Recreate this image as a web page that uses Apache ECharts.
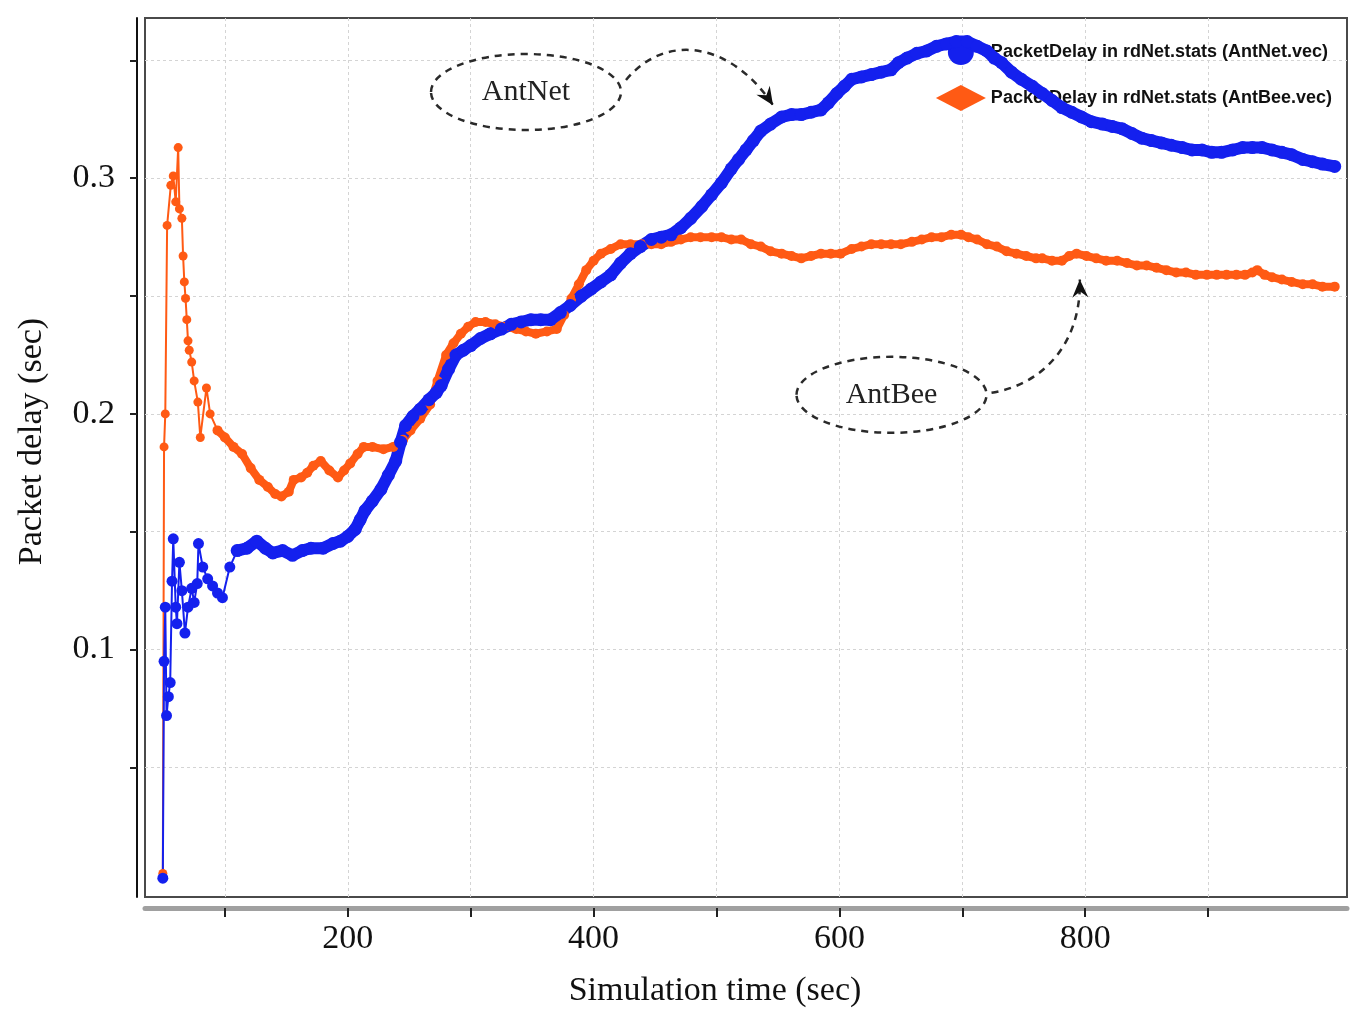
<!DOCTYPE html>
<html>
<head>
<meta charset="utf-8">
<title>Packet delay</title>
<script src="https://cdn.jsdelivr.net/npm/echarts@6/dist/echarts.min.js"></script>
<style>
  html, body { margin: 0; padding: 0; background: #fff; }
  #main { width: 1355px; height: 1023px; }
</style>
</head>
<body>
<div id="main"></div>
<script>
// series names (legend)
var nameNet = 'PacketDelay in rdNet.stats (AntNet.vec)';
var nameBee = 'PacketDelay in rdNet.stats (AntBee.vec)';

// axis ticks / labels
var xTicks = [100, 200, 300, 400, 500, 600, 700, 800, 900];
var xLabels = [200, 400, 600, 800];
var yTicks = [0.05, 0.1, 0.15, 0.2, 0.25, 0.3, 0.35];
var yLabels = [0.1, 0.2, 0.3];

// AntNet: first samples (sparse) then the dense part
var antNetHead = [
  [49.5, 0.003], [50.5, 0.095], [51.5, 0.118], [52.5, 0.072], [54, 0.080], [55.5, 0.086],
  [57, 0.129], [58, 0.147], [60, 0.118], [61, 0.111], [63, 0.137], [65, 0.125],
  [67.5, 0.107], [70, 0.118], [73, 0.126], [75, 0.120], [77.5, 0.128], [78.5, 0.145],
  [82, 0.135], [86, 0.130], [90, 0.127], [94, 0.124], [98, 0.122], [104, 0.135], [110, 0.142]
];
var antNet = [
  [110, 0.142], [118, 0.143], [126, 0.146], [133, 0.143], [139, 0.141], [147, 0.142],
  [155, 0.140], [163, 0.142], [170, 0.143], [180, 0.143], [188, 0.145], [194, 0.146],
  [200, 0.148], [206, 0.151], [210, 0.155], [214, 0.159], [220, 0.163], [227, 0.168],
  [233, 0.174], [239, 0.180], [243, 0.188], [247, 0.195], [253, 0.199], [259, 0.202],
  [266, 0.206], [272, 0.209], [276, 0.212], [282, 0.219], [288, 0.225], [294, 0.227],
  [300, 0.229], [308, 0.232], [316, 0.234], [325, 0.236], [333, 0.238], [341, 0.239],
  [349, 0.240], [357, 0.240], [365, 0.240], [373, 0.243], [381, 0.246], [390, 0.250],
  [398, 0.253], [406, 0.256], [414, 0.259], [422, 0.264], [430, 0.268], [438, 0.271],
  [447, 0.274], [455, 0.275], [463, 0.276], [471, 0.279], [479, 0.283], [488, 0.288],
  [496, 0.293], [504, 0.298], [512, 0.304], [518, 0.308], [524, 0.312], [530, 0.316],
  [536, 0.320], [544, 0.323], [553, 0.326], [561, 0.327], [569, 0.327], [577, 0.328],
  [585, 0.329], [591, 0.332], [598, 0.336], [604, 0.339], [610, 0.342], [618, 0.343],
  [626, 0.344], [634, 0.345], [642, 0.346], [648, 0.349], [655, 0.351], [663, 0.353],
  [671, 0.354], [679, 0.356], [687, 0.357], [695, 0.358], [704, 0.358], [712, 0.356],
  [720, 0.354], [726, 0.351], [732, 0.349], [740, 0.345], [748, 0.342], [757, 0.339],
  [765, 0.336], [773, 0.333], [781, 0.330], [789, 0.328], [797, 0.326], [805, 0.324],
  [814, 0.323], [822, 0.322], [830, 0.321], [838, 0.319], [846, 0.317], [854, 0.316],
  [862, 0.315], [870, 0.314], [879, 0.313], [887, 0.312], [895, 0.312], [903, 0.311],
  [911, 0.311], [920, 0.312], [928, 0.313], [936, 0.313], [944, 0.313], [952, 0.312],
  [960, 0.311], [968, 0.310], [977, 0.308], [985, 0.307], [993, 0.306], [1003, 0.305]
];

// AntBee
var antBeeHead = [
  [49.5, 0.005], [50.5, 0.186], [51.5, 0.200], [53, 0.280], [56, 0.297], [58, 0.301],
  [60, 0.290], [62, 0.313], [63, 0.287], [65, 0.283], [66, 0.267], [67, 0.256],
  [68, 0.249], [69, 0.240], [70, 0.231], [71, 0.227], [73, 0.222], [75, 0.214],
  [78, 0.205], [80, 0.190], [85, 0.211], [88, 0.200], [94, 0.193]
];
var antBee = [
  [94, 0.193], [100, 0.190], [107, 0.186], [114, 0.183], [121, 0.177], [128, 0.172],
  [135, 0.169], [141, 0.166], [146, 0.165], [152, 0.167], [156, 0.172], [162, 0.173],
  [167, 0.175], [172, 0.178], [178, 0.180], [185, 0.176], [192, 0.173], [197, 0.176],
  [202, 0.179], [208, 0.183], [213, 0.186], [220, 0.186], [229, 0.185], [237, 0.186],
  [245, 0.189], [251, 0.193], [259, 0.198], [267, 0.204], [273, 0.214], [280, 0.225],
  [286, 0.230], [292, 0.234], [298, 0.237], [304, 0.239], [312, 0.239], [320, 0.238],
  [328, 0.237], [337, 0.236], [345, 0.235], [353, 0.234], [362, 0.235], [370, 0.236],
  [376, 0.242], [382, 0.249], [388, 0.255], [394, 0.261], [400, 0.265], [406, 0.268],
  [414, 0.270], [422, 0.272], [430, 0.272], [439, 0.272], [447, 0.272], [455, 0.272],
  [463, 0.273], [471, 0.274], [479, 0.275], [487, 0.275], [496, 0.275], [504, 0.275],
  [512, 0.274], [520, 0.274], [528, 0.272], [536, 0.271], [544, 0.269], [553, 0.268],
  [561, 0.267], [569, 0.266], [577, 0.267], [585, 0.268], [593, 0.268], [601, 0.268],
  [610, 0.270], [618, 0.271], [626, 0.272], [634, 0.272], [642, 0.272], [650, 0.272],
  [659, 0.273], [667, 0.274], [675, 0.275], [683, 0.275], [691, 0.276], [699, 0.276],
  [705, 0.275], [712, 0.274], [720, 0.272], [728, 0.271], [736, 0.269], [744, 0.268],
  [752, 0.267], [760, 0.266], [765, 0.266], [773, 0.265], [781, 0.265], [787, 0.267],
  [793, 0.268], [801, 0.267], [809, 0.266], [817, 0.265], [826, 0.265], [834, 0.264],
  [842, 0.263], [850, 0.263], [858, 0.262], [866, 0.261], [874, 0.260], [882, 0.260],
  [890, 0.259], [899, 0.259], [907, 0.259], [915, 0.259], [923, 0.259], [930, 0.259],
  [936, 0.260], [940, 0.261], [946, 0.259], [952, 0.258], [960, 0.257], [968, 0.256],
  [977, 0.255], [985, 0.255], [993, 0.254], [1003, 0.254]
];

var blue = '#1420ee';
var orange = '#ff5a14';
var serif = "'Liberation Serif', 'DejaVu Serif', serif";

var chart = echarts.init(document.getElementById('main'));

var option = {
  backgroundColor: '#ffffff',
  animation: false,
  grid: {
    left: 145, right: 8, top: 18, bottom: 126,
    show: true, borderColor: '#4a4a4a', borderWidth: 2
  },
  legend: {
    orient: 'vertical',
    right: 18, top: 34,
    itemWidth: 50, itemHeight: 26, itemGap: 20,
    z: 1,
    textStyle: { fontFamily: "'Liberation Sans', Arial, sans-serif", fontSize: 18, fontWeight: 'bold', color: '#111' },
    data: [
      { name: nameNet, icon: 'circle' },
      { name: nameBee, icon: 'diamond' }
    ]
  },
  xAxis: {
    type: 'value',
    min: 35, max: 1013,
    offset: 11,
    name: 'Simulation time (sec)',
    nameLocation: 'middle',
    nameGap: 66,
    nameTextStyle: { fontFamily: serif, fontSize: 34, color: '#111', padding: [0, 62, 0, 0] },
    axisLine: { onZero: false, lineStyle: { color: '#a0a0a0', width: 5 } },
    axisTick: { customValues: xTicks, length: 9, lineStyle: { color: '#222', width: 2 } },
    axisLabel: { customValues: xLabels, margin: 14, fontFamily: serif, fontSize: 34, color: '#111' },
    splitLine: { show: true, lineStyle: { color: '#d4d4d4', width: 1, type: [3, 3] } }
  },
  yAxis: {
    type: 'value',
    min: -0.005, max: 0.368,
    offset: 8,
    name: 'Packet delay (sec)',
    nameLocation: 'middle',
    nameRotate: 90,
    nameGap: 88,
    nameTextStyle: { fontFamily: serif, fontSize: 34, color: '#111', padding: [0, 0, 0, 32] },
    axisLine: { show: true, onZero: false, lineStyle: { color: '#111', width: 2 } },
    axisTick: { show: true, customValues: yTicks, length: 7, lineStyle: { color: '#222', width: 2 } },
    axisLabel: {
      customValues: yLabels, margin: 22, fontFamily: serif, fontSize: 34, color: '#111',
      formatter: function (v) { return v.toFixed(1); }
    },
    splitLine: { show: true, lineStyle: { color: '#d4d4d4', width: 1, type: [3, 3] } }
  },
  series: [
    {
      name: nameBee, type: 'line', data: antBeeHead,
      symbol: 'circle', symbolSize: 9,
      lineStyle: { color: orange, width: 2 }, itemStyle: { color: orange }
    },
    {
      name: nameBee, type: 'line', data: antBee,
      symbol: 'circle', symbolSize: 10,
      lineStyle: { color: orange, width: 8 }, itemStyle: { color: orange }
    },
    {
      name: nameNet, type: 'line', data: antNetHead,
      symbol: 'circle', symbolSize: 11,
      lineStyle: { color: blue, width: 2 }, itemStyle: { color: blue }
    },
    {
      name: nameNet, type: 'line', data: antNet,
      symbol: 'circle', symbolSize: 13,
      lineStyle: { color: blue, width: 12 }, itemStyle: { color: blue }
    }
  ]
};
chart.setOption(option);

// ---- dashed annotation bubbles with arrows ----
var dash = { stroke: '#2a2a2a', fill: null, lineWidth: 2.5, lineDash: [7, 6] };

function arrowHead(tip, from) {
  var dx = tip[0] - from[0], dy = tip[1] - from[1];
  var len = Math.sqrt(dx * dx + dy * dy);
  dx /= len; dy /= len;
  var bx = tip[0] - dx * 18, by = tip[1] - dy * 18;
  return {
    type: 'polygon', z: 10,
    shape: { points: [tip, [bx - dy * 8, by + dx * 8], [tip[0] - dx * 12, tip[1] - dy * 12], [bx + dy * 8, by - dx * 8]] },
    style: { fill: '#111' }
  };
}

function bubble(label, center, tip, c1, c2, start) {
  var p = chart.convertToPixel({ gridIndex: 0 }, center);
  var t = chart.convertToPixel({ gridIndex: 0 }, tip);
  var s = [p[0] + start[0], p[1] + start[1]];
  var cp1 = [p[0] + c1[0], p[1] + c1[1]];
  var cp2 = [p[0] + c2[0], p[1] + c2[1]];
  return [
    { type: 'ellipse', z: 10, shape: { cx: p[0], cy: p[1], rx: 95, ry: 38 }, style: dash },
    {
      type: 'text', z: 10, x: p[0], y: p[1],
      style: { text: label, font: '30px ' + serif, fill: '#222', align: 'center', verticalAlign: 'middle' }
    },
    {
      type: 'bezierCurve', z: 10,
      shape: { x1: s[0], y1: s[1], cpx1: cp1[0], cpy1: cp1[1], cpx2: cp2[0], cpy2: cp2[1], x2: t[0], y2: t[1] },
      style: dash
    },
    arrowHead(t, cp2)
  ];
}

var graphics = []
  .concat(bubble('AntNet', [345, 0.3366], [546, 0.331], [140, -60], [205, -50], [100, -12]))
  .concat(bubble('AntBee', [642.4, 0.2081], [795.6, 0.257], [150, -10], [190, -50], [100, -2]));

chart.setOption({ graphic: graphics });
</script>
</body>
</html>
